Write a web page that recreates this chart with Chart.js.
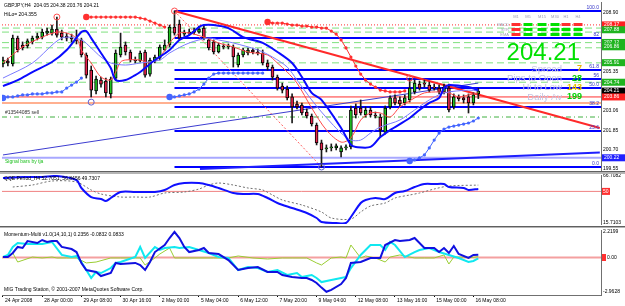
<!DOCTYPE html>
<html lang="en">
<head>
<meta charset="UTF-8">
<title>GBPJPY,H4</title>
<script src="https://cdn.jsdelivr.net/npm/chart.js"></script>
</head>
<body style="margin:0; padding:0; background:#fff;">
<div style="position:relative; width:625px; height:306px; overflow:hidden; background:#fff;">
  <canvas id="priceChart" width="625" height="172" style="position:absolute; left:0; top:0;"></canvas>
  <canvas id="qqeChart" width="625" height="52" style="position:absolute; left:0; top:174px;"></canvas>
  <canvas id="momChart" width="625" height="78" style="position:absolute; left:0; top:228px;"></canvas>
  <div style="position:absolute; left:0; top:171px; width:625px; height:1px; background:#606060;"></div>
  <div style="position:absolute; left:0; top:172px; width:625px; height:2px; background:#b4b4b4;"></div>
  <div style="position:absolute; left:0; top:226px; width:625px; height:1px; background:#606060;"></div>
  <div style="position:absolute; left:0; top:227px; width:625px; height:1px; background:#b4b4b4;"></div>
</div>

<script>
// ---------- data ----------
const timeLabels = ['24 Apr 2008', '28 Apr 00:00', '29 Apr 08:00', '30 Apr 16:00', '2 May 00:00', '5 May 04:00',
  '6 May 12:00', '7 May 20:00', '9 May 04:00', '12 May 08:00', '13 May 16:00', '15 May 00:00', '16 May 08:00'];
const timeLabelBars = [0, 8, 16, 24, 32, 40, 48, 56, 64, 72, 80, 88, 96];
const priceTicks = [199.55, 200.70, 201.85, 203.06, 205.35, 208.90];

const opens = [205.83, 206.01, 205.83, 207.38, 206.97, 206.91, 207.15, 207.38, 207.44, 207.68,
  207.68, 207.92, 207.68, 207.50, 207.44, 207.38, 207.27, 206.37, 205.47, 204.22,
  204.87, 204.81, 204.04, 204.99, 206.37, 206.97, 206.55, 206.07, 206.01, 206.55,
  205.23, 206.01, 206.19, 206.67, 206.97, 208.04, 208.22, 207.62, 207.74, 207.74,
  207.74, 207.98, 207.27, 207.15, 206.55, 206.91, 206.85, 206.85, 205.77, 206.37,
  206.49, 206.67, 206.55, 206.49, 205.89, 205.65, 205.05, 204.51, 204.33, 203.86,
  203.44, 203.38, 202.96, 202.72, 202.18, 201.11, 200.75, 200.81, 200.81, 200.57,
  200.81, 200.87, 203.20, 203.20, 202.78, 203.08, 202.78, 202.66, 201.76, 203.26,
  203.80, 203.68, 203.50, 203.68, 204.16, 204.63, 204.69, 204.57, 204.45, 204.39,
  204.16, 204.39, 203.26, 203.86, 203.80, 203.86, 203.50, 204.05];
const highs = [206.25, 206.19, 207.56, 207.50, 207.15, 207.33, 207.50, 207.68, 207.92, 207.98,
  208.16, 208.64, 207.86, 207.68, 207.62, 207.86, 207.38, 206.49, 205.71, 205.11,
  205.05, 204.99, 205.05, 206.67, 207.68, 207.15, 206.67, 206.25, 206.61, 206.67,
  206.19, 206.37, 206.97, 207.27, 208.16, 209.00, 208.46, 207.86, 207.92, 207.98,
  208.10, 208.10, 207.38, 207.27, 207.09, 207.03, 207.03, 206.97, 206.49, 206.79,
  206.79, 206.79, 206.73, 206.67, 206.07, 205.77, 205.17, 204.69, 204.51, 204.04,
  203.62, 203.50, 203.14, 202.84, 202.30, 201.28, 200.99, 201.05, 201.05, 200.93,
  200.99, 203.32, 203.44, 203.68, 203.26, 203.26, 202.96, 202.84, 203.32, 203.92,
  203.98, 203.86, 203.98, 204.99, 204.87, 204.81, 204.87, 204.75, 204.63, 204.57,
  204.63, 204.63, 204.04, 203.98, 203.98, 204.04, 204.10, 204.38];
const lows = [205.65, 205.71, 205.71, 206.55, 206.67, 206.79, 207.03, 207.27, 207.33, 207.56,
  207.56, 207.44, 207.27, 207.21, 207.15, 207.03, 206.25, 204.99, 203.86, 204.04,
  204.45, 203.86, 203.80, 204.87, 206.25, 206.37, 205.95, 205.89, 205.95, 205.05,
  205.11, 205.89, 206.07, 206.61, 206.85, 207.56, 207.27, 207.50, 207.56, 207.62,
  207.68, 207.27, 206.67, 206.43, 206.49, 206.73, 206.73, 205.65, 205.65, 206.25,
  206.37, 206.43, 206.37, 205.77, 205.47, 204.87, 204.27, 204.10, 203.68, 202.30,
  203.14, 202.78, 202.60, 202.12, 200.99, 199.67, 200.57, 200.63, 200.69, 200.27,
  200.69, 200.75, 202.60, 202.78, 202.66, 202.66, 202.60, 201.46, 201.64, 203.14,
  203.38, 203.32, 203.38, 203.56, 204.04, 204.27, 204.45, 204.16, 204.27, 204.04,
  204.04, 202.96, 203.14, 203.62, 203.50, 202.90, 203.38, 203.76];
const closes = [206.07, 205.89, 207.38, 206.67, 206.79, 207.21, 207.38, 207.50, 207.74, 207.80,
  207.92, 207.56, 207.44, 207.38, 207.33, 207.21, 206.37, 205.17, 204.27, 204.93,
  204.63, 204.10, 204.93, 206.49, 206.85, 206.55, 206.07, 206.01, 206.49, 205.17,
  206.07, 206.25, 206.85, 206.97, 208.04, 207.68, 207.38, 207.74, 207.68, 207.80,
  207.92, 207.38, 206.79, 206.55, 206.97, 206.85, 206.91, 206.25, 206.37, 206.67,
  206.67, 206.55, 206.49, 205.89, 205.65, 205.05, 204.39, 204.27, 203.80, 203.26,
  203.26, 202.90, 202.72, 202.24, 201.11, 200.69, 200.81, 200.87, 200.93, 200.81,
  200.87, 203.08, 202.78, 202.90, 203.08, 202.78, 202.72, 201.88, 203.20, 203.80,
  203.50, 203.44, 203.80, 204.39, 204.69, 204.39, 204.63, 204.27, 204.39, 204.16,
  204.45, 203.08, 203.86, 203.74, 203.68, 203.50, 203.98, 204.21];

// moving averages (bar, value)
const fastMaBars = [0, 4, 8, 11, 13, 15, 16, 18, 20, 22, 23, 24, 25, 28, 30, 32, 34, 36, 38, 41, 44, 47, 50, 54, 56,
  58, 60, 63, 66, 69, 71, 73, 75, 77, 79, 81, 84, 86, 89, 91, 93, 95, 97];
const fastMaValues = [205.89, 206.85, 207.44, 207.74, 207.68, 207.38, 206.67, 205.89, 205.05, 204.87, 205.35, 205.95,
  206.07, 206.07, 205.89, 206.25, 207.09, 207.68, 207.68, 207.44, 207.09, 206.85, 206.55, 206.37, 205.89, 205.35,
  204.69, 203.20, 201.88, 201.16, 201.40, 202.48, 202.90, 202.90, 202.66, 203.26, 203.80, 204.10, 204.16, 204.10,
  203.86, 203.98, 204.10];
const midMaBars = [0, 6, 12, 16, 18, 20, 22, 25, 28, 32, 34, 38, 42, 44, 47, 52, 55, 58, 60, 63, 65, 67, 69, 71, 73,
  75, 77, 81, 84, 87, 90, 95, 97];
const midMaValues = [204.99, 205.89, 207.38, 207.27, 206.79, 206.25, 205.89, 205.77, 205.89, 206.07, 206.49, 207.09,
  207.38, 207.27, 207.09, 206.67, 206.25, 205.65, 204.87, 203.68, 202.96, 202.30, 201.70, 201.28, 201.28, 201.70,
  202.06, 202.48, 203.08, 203.68, 204.10, 204.27, 204.22];
const slowMaBars = [0, 3, 6, 10, 13, 16, 17, 18, 20, 22, 23, 25, 27, 28, 29, 31, 34, 36, 38, 40, 41, 43, 46, 49, 53,
  56, 59, 61, 63, 65, 69, 71, 72, 75, 77, 79, 83, 85, 87, 89, 90, 91, 95, 97];
const slowMaValues = [204.51, 204.87, 205.35, 205.95, 206.67, 207.74, 207.80, 207.38, 206.49, 205.59, 204.87, 204.87,
  205.17, 205.35, 205.59, 206.07, 206.67, 207.27, 207.56, 208.04, 208.16, 208.16, 207.98, 207.44, 207.09, 206.55,
  205.89, 205.05, 204.10, 203.68, 202.00, 200.99, 200.87, 200.87, 201.46, 201.88, 202.60, 203.08, 203.50, 203.80,
  204.39, 204.57, 204.45, 204.27];

// parabolic SAR runs (first bar, values)
const sarLow1Start = 0;
const sarLow1 = [203.80, 203.86, 203.86, 203.92, 203.98, 203.98, 204.04, 204.04, 204.04, 204.10, 204.10, 204.16,
  204.16, 204.39, 204.57, 204.75, 204.99];
const sarHigh1Start = 17;
const sarHigh1 = [208.64, 208.64, 208.64, 208.64, 208.64, 208.64, 208.64, 208.64, 208.64, 208.64, 208.64, 208.58,
  208.52, 208.40, 208.28, 208.16, 208.04];
const sarLow2Start = 34;
const sarLow2 = [203.86, 203.86, 203.92, 203.98, 204.04, 204.16, 204.33, 204.63, 204.99, 205.23, 205.29, 205.29,
  205.29, 205.29, 205.29, 205.29, 205.29, 205.29, 205.29, 205.29];
const sarHigh2Start = 54;
const sarHigh2 = [208.34, 208.28, 208.28, 208.28, 208.22, 208.16, 208.16, 208.10, 208.10, 208.04, 208.04, 207.98,
  207.98, 207.80, 207.62, 207.27, 206.79, 206.25, 205.71, 205.23, 204.87, 204.63, 204.45, 204.27, 204.22, 204.16,
  204.16, 204.16, 204.22];
const sarLow3Start = 83;
const sarLow3 = [200.03, 200.09, 200.21, 200.39, 200.81, 201.28, 201.70, 201.94, 202.06, 202.12, 202.18, 202.24,
  202.30, 202.42, 202.60];

// chart objects
const fibStartBar = 35;
const fibLevels = [209.00, 207.38, 205.47, 204.93, 204.39, 203.26, 201.82, 199.67];
const fibLabels = ['100.0', '82', '61.8', '56', '50.0', '38.2', '23.6', '0.0'];
const greenLevels = [207.98, 207.74, 207.11, 206.80, 205.90, 204.74];
const redDotLevel = 208.17;
const sellLevel = 203.86;
const stopLevel = 203.50;
const orderLevel = 202.66;
const supportLevel = 200.22;
const redTrendBars = [35, 121.8];
const redTrendValues = [209.00, 202.00];
const zigzagBars = [35, 65];
const zigzagValues = [209.00, 199.67];
const blueTrendBars = [0, 97];
const blueTrendValues = [200.39, 204.69];
const lowTrendBars = [40.2, 121.8];
const lowTrendValues = [199.55, 200.54];
const fractalUpBars = [11, 35, 83];
const fractalUpValues = [208.64, 209.00, 204.99];
const fractalDownBars = [18, 65];
const fractalDownValues = [203.55, 199.67];

// right axis price flags
const flagValues = [208.17, 207.88, 207.12, 206.86, 205.91, 204.74, 204.21, 203.86, 200.22];
const flagColors = ['#ff2020', '#1fb41f', '#1fb41f', '#1fb41f', '#1fb41f', '#1fb41f', '#000000', '#ff2020', '#2020ff'];

// info panel
const sigCols = ['M1', 'M5', 'M15', 'M30', 'H1', 'H4'];
const sigRows = ['MACD', 'STR', 'EMA'];
const sigUp = [[0, 1, 1, 1, 0, 0], [0, 1, 1, 1, 1, 1], [0, 1, 1, 1, 1, 1]];
const infoLabels = ['Spread', 'Pips to Open', 'Hi to Low', 'Daily Av'];
const infoValues = ['7', '28', '143', '199'];
const infoColors = ['#e8b400', '#00d000', '#e8c000', '#00d000'];
const lastPrice = '204.21';

// QQE
const qqeBars = [0, 4, 8, 11, 15, 16, 18, 20, 21, 22, 24, 27, 29, 31, 33, 35, 37, 40, 42, 44, 47, 49, 52, 54, 56,
  59, 62, 64, 65, 68, 70, 71, 73, 74, 76, 78, 80, 82, 84, 86, 88, 90, 91, 94, 95, 97];
const qqeValues = [64.54, 65.63, 65.63, 66.71, 62.37, 53.69, 43.92, 41.75, 39.58, 42.84, 49.35, 49.35, 49.35, 49.35,
  51.52, 56.94, 59.11, 59.11, 56.94, 53.69, 48.26, 47.18, 47.18, 42.84, 37.41, 31.99, 26.56, 21.14, 16.80, 15.71,
  15.71, 22.22, 37.41, 40.67, 42.84, 41.75, 48.26, 50.43, 54.77, 58.03, 58.03, 58.03, 54.77, 53.69, 51.52, 52.71];
const qqeSlowBars = [2, 6, 10, 15, 18, 20, 24, 27, 30, 33, 37, 40, 42, 44, 47, 50, 53, 55, 57, 61, 65, 67, 71, 73,
  75, 78, 80, 83, 85, 88, 91, 97];
const qqeSlowValues = [54.77, 56.94, 61.28, 60.20, 51.52, 47.18, 43.92, 43.92, 43.92, 48.26, 49.35, 52.60, 56.94,
  59.11, 56.94, 53.69, 51.52, 46.09, 40.67, 35.24, 27.65, 21.14, 20.05, 27.65, 34.16, 37.41, 42.84, 46.09, 48.26,
  52.60, 55.86, 56.85];
const qqeTicks = [66.7082, 15.7103];

// Momentum-Multi
const momBlueBars = [0, 1, 2, 3, 4, 5, 7, 8, 9, 10, 11, 12, 14, 15, 16, 17, 19, 20, 22, 23, 24, 27, 28, 29, 30, 31,
  33, 34, 35, 36, 37, 38, 40, 41, 42, 44, 46, 48, 50, 52, 54, 56, 57, 59, 61, 62, 63, 64, 65, 66, 67, 69, 70, 71,
  73, 75, 77, 78, 80, 81, 83, 84, 86, 88, 89, 90, 91, 92, 93, 95, 96, 97];
const momBlueValues = [0.04, 0.04, 0.39, 0.91, 0.82, 1.42, 1.25, 1.51, 1.34, 1.42, 1.42, 0.91, 0.73, 0.47, -0.47,
  -1.08, -1.25, -1.60, -1.34, -0.47, -0.56, -0.47, -0.65, -1.08, -0.39, 0.47, 1.08, 1.68, 2.22, 1.68, 0.91, 0.47,
  0.65, 0.82, 0.39, 0.30, -0.22, -1.08, -0.91, -0.82, -1.25, -1.25, -1.51, -1.68, -1.77, -1.77, -1.94, -2.20,
  -2.60, -2.96, -2.79, -2.29, -1.77, -0.47, -0.39, -0.04, -0.04, 1.08, 1.51, 1.42, 1.51, 1.68, 0.82, 0.82, 0.47,
  0.82, 0.39, 0.99, 0.30, -0.04, 0.22, 0.24];
const momCyanBars = [0, 1, 2, 3, 5, 8, 10, 12, 14, 15, 16, 18, 19, 20, 22, 23, 24, 27, 28, 29, 31, 32, 33, 35, 36,
  38, 40, 42, 44, 46, 48, 50, 52, 54, 56, 58, 60, 61, 63, 64, 65, 67, 69, 70, 71, 73, 75, 77, 78, 79, 80, 82, 84,
  85, 87, 89, 91, 93, 95, 96, 97];
const momCyanValues = [0.04, 0.22, 0.91, 1.25, 1.17, 1.17, 1.34, 0.22, 0.04, 0.13, -0.39, -1.77, -1.25, -1.34,
  -0.91, -0.47, -0.39, 0.04, 0.91, -0.04, 0.91, 0.65, 0.82, 0.91, 0.82, 0.91, 0.65, 0.39, 0.04, -0.04, -1.08,
  -0.82, -0.91, -1.25, -1.08, -1.51, -1.34, -1.68, -1.51, -1.77, -2.12, -1.94, -1.77, -1.68, -0.91, 0.22, 1.08,
  1.08, 0.65, 1.34, 1.08, 0.04, 0.47, 0.65, 0.82, 0.47, 0.22, -0.04, -0.39, -0.30, -0.08];
const momGreenBars = [0, 1, 2, 3, 6, 8, 10, 11, 13, 15, 17, 19, 22, 24, 27, 28, 29, 31, 32, 34, 35, 38, 40, 43, 46,
  48, 51, 54, 57, 59, 62, 64, 65, 67, 69, 70, 71, 73, 74, 76, 78, 79, 81, 83, 84, 86, 88, 90, 91, 92, 94, 95, 97];
const momGreenValues = [0.04, 0.04, 0.39, -0.39, 0.04, -0.04, 0.04, -0.04, -0.04, -0.04, -0.47, -0.39, -0.04,
  -0.04, -0.04, -0.04, -0.65, -0.04, 0.30, 0.82, -0.04, -0.04, -0.04, -0.04, -0.04, 0.13, -0.04, -0.13, -0.04,
  -0.04, -0.04, -0.47, -0.65, -0.04, 0.04, -0.04, 1.08, -0.04, 0.13, -0.04, -0.39, 0.04, 0.22, 0.04, -0.04, -0.04,
  -0.04, 0.22, -0.56, 0.04, 0.04, -0.04, 0.08];
const momTicks = [2.2199, -2.9628];

// ---------- helpers ----------
const xMin = -0.2, xMax = 122.04;
const FONT = '"Liberation Sans", Arial, sans-serif';
const pts = (bars, vals) => bars.map((b, i) => ({x: b, y: vals[i]}));
const run = (start, vals) => vals.map((v, i) => ({x: start + i, y: v}));
const flat = (v, from) => [{x: from === undefined ? xMin : from, y: v}, {x: xMax, y: v}];

function lineSet(data, color, width, extra) {
  return Object.assign({type: 'line', data: data, borderColor: color, borderWidth: width,
    pointRadius: 0, fill: false, tension: 0, order: 5}, extra || {});
}
function sarSet(start, vals, color) {
  return lineSet(run(start, vals), color, 1, {
    pointRadius: vals.map((v, i) => i === 0 ? 3.2 : 1.6),
    pointBackgroundColor: color, pointBorderWidth: 0, order: 2
  });
}
function yAxis(min, max, ticks, digits) {
  return {
    position: 'right', min: min, max: max, bounds: 'data', beginAtZero: false,
    afterBuildTicks: ax => { ax.ticks = ticks.map(v => ({value: v})); },
    afterFit: ax => { ax.width = 24; ax.paddingTop = 0; ax.paddingBottom = 0; },
    grid: {display: false, drawTicks: false},
    border: {display: true, color: '#707070'},
    ticks: {padding: 2, color: '#000', font: {family: FONT, size: 5}, callback: v => v.toFixed(digits)}
  };
}
const hiddenX = {type: 'linear', min: xMin, max: xMax, offset: false, display: false};
const baseOptions = {
  responsive: false, animation: false, events: [],
  plugins: {legend: {display: false}, tooltip: {enabled: false}}
};

// ---------- price panel ----------
const barIdx = opens.map((o, i) => i);
const mainSets = [];
greenLevels.forEach(v => mainSets.push(lineSet(flat(v), '#7ee07e', 1, {borderDash: [7, 4], order: 20})));
mainSets.push(lineSet(flat(redDotLevel), '#ff3030', 1, {borderDash: [1, 2], order: 20}));
mainSets.push(lineSet(flat(sellLevel), '#ff3030', 1, {order: 20}));
mainSets.push(lineSet(flat(stopLevel), '#ffb090', 2, {order: 20}));
mainSets.push(lineSet(flat(orderLevel), '#40b040', 1, {borderDash: [5, 3, 1, 3], order: 20}));
mainSets.push(lineSet(flat(supportLevel), '#a8a8ff', 2, {order: 20}));
fibLevels.forEach(v => mainSets.push(lineSet(flat(v, fibStartBar), '#0000ff', 2, {order: 18})));
mainSets.push(lineSet(pts(blueTrendBars, blueTrendValues), '#3c3cd0', 1, {order: 16}));
mainSets.push(lineSet(pts(lowTrendBars, lowTrendValues), '#1e1eff', 2, {order: 16}));
mainSets.push(lineSet(pts(zigzagBars, zigzagValues), '#ff6060', 1, {borderDash: [2, 2], order: 16}));
mainSets.push(lineSet(pts(redTrendBars, redTrendValues), '#ff2a2a', 2, {order: 15}));
mainSets.push({type: 'bar', data: barIdx.map(i => ({x: i, y: [lows[i], highs[i]]})),
  backgroundColor: '#1a1a1a', barThickness: 1, grouped: false, order: 10});
mainSets.push({type: 'bar', data: barIdx.map(i => ({x: i, y: [Math.min(opens[i], closes[i]), Math.max(opens[i], closes[i])]})),
  backgroundColor: barIdx.map(i => closes[i] >= opens[i] ? '#22c322' : '#e8234b'),
  borderColor: '#000', borderWidth: 1, borderSkipped: false, barThickness: 3, minBarLength: 1,
  grouped: false, order: 9});
mainSets.push(lineSet(pts(midMaBars, midMaValues), '#7a7aff', 1, {tension: 0.3, order: 4}));
mainSets.push(lineSet(pts(fastMaBars, fastMaValues), '#ff4a4a', 1, {tension: 0.3, order: 4}));
mainSets.push(lineSet(pts(slowMaBars, slowMaValues), '#0a0aff', 2, {tension: 0.3, order: 3}));
mainSets.push(sarSet(sarLow1Start, sarLow1, '#4466ff'));
mainSets.push(sarSet(sarHigh1Start, sarHigh1, '#ff3030'));
mainSets.push(sarSet(sarLow2Start, sarLow2, '#4466ff'));
mainSets.push(sarSet(sarHigh2Start, sarHigh2, '#ff3030'));
mainSets.push(sarSet(sarLow3Start, sarLow3, '#4466ff'));
mainSets.push(lineSet(pts(fractalUpBars, fractalUpValues), '#ff5050', 1,
  {showLine: false, pointRadius: 3, pointBorderColor: '#ff5050', pointBackgroundColor: 'rgba(0,0,0,0)', pointBorderWidth: 1, order: 1}));
mainSets.push(lineSet(pts(fractalDownBars, fractalDownValues), '#6060d0', 1,
  {showLine: false, pointRadius: 3, pointBorderColor: '#6060d0', pointBackgroundColor: 'rgba(0,0,0,0)', pointBorderWidth: 1, order: 1}));

const priceOverlay = {
  id: 'priceOverlay',
  afterDatasetsDraw(chart) {
    const ctx = chart.ctx, y = chart.scales.y;
    ctx.save();
    ctx.textBaseline = 'middle';
    ctx.fillStyle = '#000';
    ctx.font = '5px ' + FONT;
    ctx.textAlign = 'left';
    ctx.fillText('GBPJPY,H4  204.05 204.38 203.76 204.21', 4, 6);
    ctx.fillText('HiLo= 204.355', 4, 15);
    ctx.fillStyle = '#303030';
    ctx.fillText('#13544085 sell', 5, 113);
    ctx.fillStyle = '#20c020';
    ctx.fillText('Signal bars by tja', 5, 162);

    // fibo level captions
    ctx.fillStyle = '#3434c8';
    ctx.textAlign = 'right';
    ctx.textBaseline = 'bottom';
    fibLevels.forEach((v, i) => ctx.fillText(fibLabels[i], 599, y.getPixelForValue(v) - 1));

    // signal table
    const colX = [516, 528, 542, 555, 566, 578];
    ctx.textBaseline = 'middle';
    ctx.textAlign = 'center';
    ctx.fillStyle = '#a0a0b4';
    ctx.font = '4px ' + FONT;
    sigCols.forEach((c, i) => ctx.fillText(c, colX[i], 17));
    ctx.textAlign = 'right';
    sigRows.forEach((r, j) => ctx.fillText(r, 509, 24.5 + j * 5));
    sigUp.forEach((row, j) => row.forEach((up, i) => {
      ctx.fillStyle = up ? '#00e000' : '#ff3030';
      ctx.fillRect(colX[i] - 4.5, 23 + j * 5, 9, 3);
    }));

    // big price and info lines
    ctx.font = '24px ' + FONT;
    ctx.fillStyle = '#00e000';
    ctx.textAlign = 'right';
    ctx.textBaseline = 'alphabetic';
    ctx.fillText(lastPrice, 580, 60);
    infoLabels.forEach((t, i) => {
      const ty = 69 + i * 9.3;
      ctx.textBaseline = 'middle';
      ctx.font = '9.5px ' + FONT;
      ctx.fillStyle = '#c4c4e2';
      ctx.textAlign = 'right';
      ctx.fillText(t, 562, ty);
      ctx.font = 'bold 9px ' + FONT;
      ctx.fillStyle = infoColors[i];
      ctx.fillText(infoValues[i], 582, ty);
    });
    ctx.restore();
  },
  afterDraw(chart) {
    const ctx = chart.ctx, y = chart.scales.y;
    ctx.save();
    ctx.font = '5px ' + FONT;
    ctx.textBaseline = 'middle';
    ctx.textAlign = 'left';
    flagValues.forEach((v, i) => {
      const py = y.getPixelForValue(v);
      ctx.fillStyle = flagColors[i];
      ctx.fillRect(602, py - 3.5, 23, 7);
      ctx.fillStyle = '#fff';
      ctx.fillText(v.toFixed(2), 604, py);
    });
    ctx.restore();
  }
};

new Chart(document.getElementById('priceChart'), {
  type: 'bar',
  data: {datasets: mainSets},
  options: Object.assign({}, baseOptions, {
    layout: {padding: {left: 2, top: 2, right: 0, bottom: 1}, autoPadding: false},
    scales: {x: hiddenX, y: yAxis(199.43, 209.54, priceTicks, 2)}
  }),
  plugins: [priceOverlay]
});

// ---------- QQE panel ----------
const qqeOverlay = {
  id: 'qqeOverlay',
  afterDraw(chart) {
    const ctx = chart.ctx, y = chart.scales.y;
    ctx.save();
    ctx.font = '5px ' + FONT;
    ctx.textBaseline = 'middle';
    ctx.fillStyle = '#000';
    ctx.fillText('QQE Period_H4 52.7051, 56.8456 49.7307', 4, 5);
    const py = y.getPixelForValue(50);
    ctx.fillStyle = '#ff3030';
    ctx.fillRect(602, py - 3.5, 8, 7);
    ctx.fillStyle = '#fff';
    ctx.fillText('50', 603, py);
    ctx.restore();
  }
};
new Chart(document.getElementById('qqeChart'), {
  type: 'line',
  data: {datasets: [
    lineSet(flat(50), '#f08080', 1, {order: 10}),
    lineSet(pts(qqeSlowBars, qqeSlowValues), '#707070', 1, {borderDash: [2, 2], tension: 0.3, order: 6}),
    lineSet(pts(qqeBars, qqeValues), '#1010ff', 2, {tension: 0.3, order: 4})
  ]},
  options: Object.assign({}, baseOptions, {
    layout: {padding: {left: 2, top: 1, right: 0, bottom: 2}, autoPadding: false},
    scales: {x: hiddenX, y: yAxis(14.63, 67.80, qqeTicks, 4)}
  }),
  plugins: [qqeOverlay]
});

// ---------- Momentum panel ----------
const momOverlay = {
  id: 'momOverlay',
  afterDraw(chart) {
    const ctx = chart.ctx, y = chart.scales.y;
    ctx.save();
    ctx.font = '5px ' + FONT;
    ctx.textBaseline = 'middle';
    ctx.fillStyle = '#000';
    ctx.fillText('Momentum-Multi v1.0(14,10,1) 0.2356 -0.0832 0.0833', 4, 7);
    ctx.fillText('MIG Trading Station, \u00a9 2001-2007 MetaQuotes Software Corp.', 4, 62);
    const py = y.getPixelForValue(0);
    ctx.fillStyle = '#ff3030';
    ctx.fillRect(602, py - 3.5, 4, 7);
    ctx.fillStyle = '#000';
    ctx.fillText('0.00', 607, py);
    ctx.restore();
  }
};
new Chart(document.getElementById('momChart'), {
  type: 'line',
  data: {datasets: [
    lineSet(flat(0), '#f4a0a0', 2, {order: 10}),
    lineSet(pts(momGreenBars, momGreenValues), '#9acd32', 1, {order: 6}),
    lineSet(pts(momCyanBars, momCyanValues), '#10e8f0', 2, {order: 5}),
    lineSet(pts(momBlueBars, momBlueValues), '#1010e0', 2, {order: 4})
  ]},
  options: Object.assign({}, baseOptions, {
    layout: {padding: {left: 2, top: 2, right: 0, bottom: 0}, autoPadding: false},
    scales: {
      x: {
        type: 'linear', min: xMin, max: xMax, offset: false, position: 'bottom',
        afterBuildTicks: ax => { ax.ticks = timeLabelBars.map(v => ({value: v})); },
        afterFit: ax => { ax.height = 11; ax.paddingLeft = 0; ax.paddingRight = 0; },
        grid: {display: true, drawOnChartArea: false, drawTicks: true, tickLength: 2, color: '#000'},
        border: {display: true, color: '#707070'},
        ticks: {align: 'start', labelOffset: 2, padding: 1, autoSkip: false, maxRotation: 0, minRotation: 0,
          color: '#000', font: {family: FONT, size: 5}, callback: (v, i) => timeLabels[i]}
      },
      y: yAxis(-3.238, 2.375, momTicks, 4)
    }
  }),
  plugins: [momOverlay]
});
</script>
</body>
</html>
